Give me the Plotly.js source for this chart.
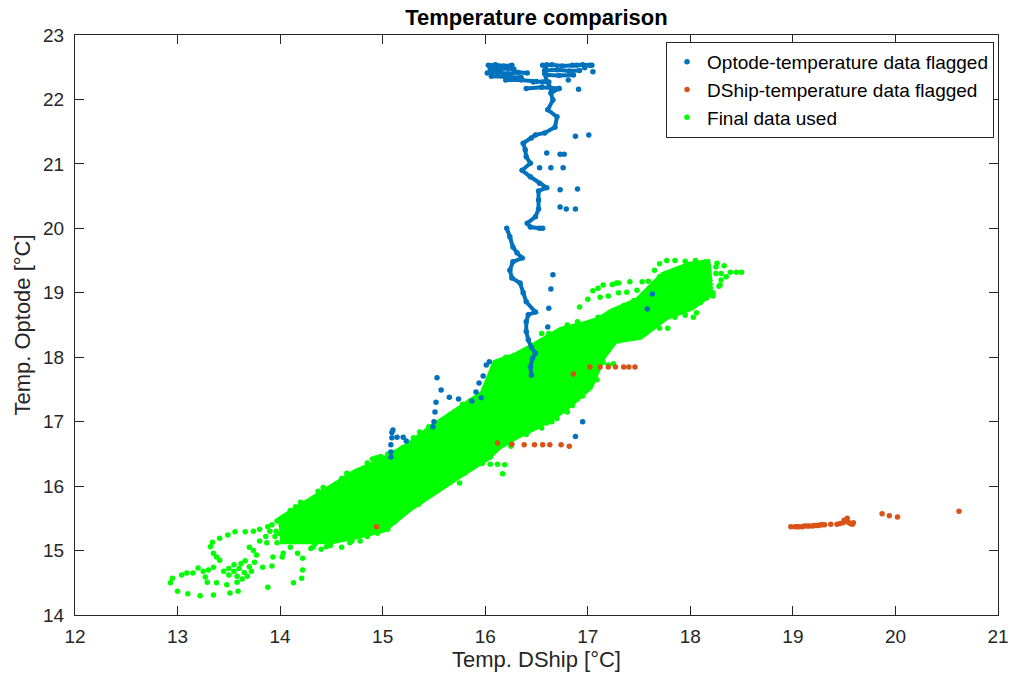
<!DOCTYPE html>
<html><head><meta charset="utf-8">
<script src="https://cdn.plot.ly/plotly-3.0.1.min.js"></script>
<style>html,body{margin:0;padding:0;background:#fff}#chart{width:1015px;height:679px}</style>
</head><body><div id="chart"></div>
<script>
// ---- tick labels ----
const xTicks = [12,13,14,15,16,17,18,19,20,21];
const yTicks = [14,15,16,17,18,19,20,21,22,23];

// ---- green: dense core of "Final data used", read as tracks across the band ----
const bandX  = [14.0,14.25,14.5,14.75,15.0,15.25,15.5,15.75,16.0,16.12,16.3,16.5,16.75,17.0,17.12,17.25,17.5,17.75,18.0,18.2];
const bandY0 = [15.19,15.17,15.19,15.27,15.37,15.69,15.97,16.22,16.47,16.65,16.82,16.97,17.22,17.57,18.02,18.30,18.36,18.66,18.81,19.05];
const bandY1 = [15.21,15.23,15.28,15.38,15.51,15.79,16.07,16.33,16.58,16.79,16.95,17.11,17.36,17.67,18.07,18.34,18.42,18.74,18.89,19.09];
const bandY2 = [15.25,15.30,15.40,15.52,15.66,15.93,16.21,16.47,16.72,16.99,17.13,17.29,17.54,17.82,18.15,18.39,18.49,18.83,18.98,19.15];
const bandY3 = [15.29,15.39,15.52,15.66,15.79,16.07,16.35,16.61,16.87,17.18,17.31,17.47,17.71,17.96,18.23,18.46,18.57,18.92,19.07,19.21];
const bandY4 = [15.33,15.47,15.63,15.80,15.93,16.21,16.49,16.76,17.01,17.36,17.49,17.64,17.88,18.09,18.31,18.52,18.64,19.00,19.15,19.27];
const bandY5 = [15.37,15.55,15.75,15.93,16.07,16.34,16.63,16.90,17.15,17.53,17.66,17.82,18.05,18.23,18.39,18.58,18.71,19.08,19.23,19.32];
const bandY6 = [15.40,15.62,15.86,16.06,16.22,16.47,16.77,17.03,17.29,17.71,17.83,17.99,18.22,18.36,18.47,18.63,18.78,19.16,19.31,19.38];
const bandY7 = [15.43,15.68,15.95,16.18,16.35,16.58,16.88,17.15,17.41,17.88,17.98,18.15,18.38,18.48,18.54,18.67,18.84,19.24,19.39,19.43];

// ---- green: individual points ----
const greenX = [12.93,12.95,13.00,13.10,13.22,13.35,13.51,13.59,13.88,14.13,14.21,14.22,
 13.04,13.09,13.15,13.20,13.25,
 13.32,13.34,13.41,13.49,13.56,13.66,13.74,13.80,13.88,13.97,14.03,
 13.35,13.38,13.41,13.35,13.30,13.27,13.29,13.38,13.48,13.58,
 13.50,13.55,13.60,13.65,13.70,13.62,13.55,13.68,13.72,13.58,13.50,13.66,13.75,13.45,13.63,
 13.77,13.74,13.70,13.83,13.92,13.93,14.02,14.03,13.87,13.97,14.17,14.22,14.32,14.49,14.34,14.40,
 13.90,13.95,14.08,14.05,13.80,13.92,13.96,14.00,13.86,
 14.10,14.20,14.37,14.60,14.85,15.10,15.36,15.59,15.78,15.98,15.45,15.70,
 14.78,14.88,14.95,15.14,15.20,15.25,15.30,15.64,15.67,15.90,15.97,16.05,16.12,16.19,16.17,15.75,15.45,14.60,14.68,
 14.94,14.98,
 16.92,17.02,17.08,17.15,17.20,17.25,17.09,17.05,16.99,16.95,16.85,16.70,16.60,
 16.55,16.62,16.70,16.78,16.86,16.95,17.05,17.15,17.25,17.35,17.45,
 17.05,17.10,17.15,17.24,17.30,17.41,17.53,17.59,17.38,17.48,17.30,17.20,17.00,16.92,17.12,17.28,
 17.77,17.85,17.95,18.05,18.15,18.26,18.39,18.45,18.50,18.29,18.16,18.22,18.03,17.95,18.06,17.70,17.78,17.97,18.10,18.25,18.35,17.65,17.70,
 14.15,14.42,14.65,14.90,15.05,15.20,15.30,15.52,15.65,15.85,16.05,16.10,16.20,16.40,16.60,16.80,16.90,17.10,17.35,17.45,17.60,17.70,
 14.10,14.30,14.45,14.70,14.85,15.05,15.12,15.35,15.55,15.80,16.05,16.25,16.40,16.55,16.65,16.80,16.90,17.00,17.30,17.45,17.60,17.85,18.10,18.20,18.30,
 18.25,18.30,18.28,18.22,18.33];
const greenY = [14.50,14.57,14.37,14.33,14.30,14.31,14.34,14.37,14.43,14.50,14.57,14.70,
 14.62,14.65,14.65,14.73,14.68,
 15.06,15.13,15.19,15.24,15.29,15.29,15.30,15.33,15.37,15.46,15.50,
 14.96,14.90,14.85,14.74,14.70,14.59,14.51,14.50,14.47,14.51,
 14.62,14.68,14.72,14.66,14.75,14.80,14.78,14.60,14.68,14.60,14.72,14.84,14.82,14.68,14.56,
 14.93,15.00,15.05,14.74,14.76,14.90,14.90,14.96,15.12,15.12,14.96,14.88,15.05,15.08,15.10,15.02,
 15.30,15.22,15.20,15.35,15.15,15.40,15.30,15.26,15.22,
 15.62,15.75,15.92,16.12,16.36,16.52,16.84,17.03,17.27,17.40,16.92,17.15,
 15.15,15.27,15.27,15.50,15.80,15.78,15.75,16.16,16.16,16.37,16.35,16.34,16.34,16.33,16.19,16.05,15.85,15.05,15.12,
 16.44,16.46,
 17.85,17.93,17.90,17.92,17.88,17.90,17.65,17.70,17.54,17.40,17.25,17.05,16.98,
 18.37,18.37,18.37,18.36,18.37,18.36,18.40,18.41,18.42,18.42,18.42,
 19.03,19.07,19.12,19.13,19.15,19.17,19.17,19.18,19.01,19.04,19.00,18.95,18.90,18.78,18.93,19.15,
 19.50,19.50,19.49,19.50,19.48,19.46,19.32,19.32,19.32,19.12,18.92,19.00,18.62,18.65,18.69,18.45,18.45,18.86,19.20,19.30,19.25,19.35,19.45,
 15.68,15.98,16.20,16.42,16.50,16.60,16.75,16.98,17.10,17.32,17.62,17.80,18.00,18.12,18.30,18.50,18.55,18.62,18.80,18.88,19.05,19.25,
 15.05,15.03,15.06,15.15,15.22,15.33,15.45,15.72,15.95,16.20,16.45,16.62,16.80,16.90,17.00,17.15,17.35,17.50,18.25,18.30,18.45,18.62,18.85,19.00,19.20,
 19.40,19.30,19.10,18.95,19.42];

// ---- blue: Optode-temperature flagged, continuous track (null = break) ----
const blueTrackX = [16.45,16.44,16.46,16.49,16.45,16.42,16.40,16.40,16.42,16.49,16.40,16.37,16.34,16.26,16.24,16.27,16.36,16.31,16.27,16.24,16.21,null,
 16.53,16.44,16.41,16.49,16.52,16.52,16.52,16.60,16.53,16.44,16.36,16.44,16.40,16.39,16.37,16.45,16.49,16.58,16.68,16.70,16.61,16.66,16.64,16.72,null,
 16.72,16.55,16.40,null, 16.20,16.35,16.50,16.62,null, 16.02,16.12,16.22,16.32,16.41,null,
 16.03,16.10,16.18,16.26,null, 16.56,16.65,16.75,16.85,16.95,17.02,null, 16.58,16.70,16.82,16.92,null,
 16.60,16.58,16.60,16.65,null, 16.06,16.20,16.35,null, 16.05,16.15,16.28,null, 16.60,16.72,16.86];
const blueTrackY = [17.72,17.85,17.98,18.06,18.15,18.27,18.40,18.55,18.66,18.70,18.86,19.00,19.15,19.23,19.35,19.48,19.54,19.62,19.71,19.87,20.00,null,
 20.00,20.02,20.08,20.18,20.30,20.44,20.58,20.63,20.70,20.80,20.90,21.01,21.11,21.22,21.32,21.40,21.45,21.48,21.57,21.73,21.84,21.99,22.10,22.17,null,
 22.17,22.19,22.17,null, 22.30,22.30,22.28,22.27,null, 22.41,22.42,22.40,22.42,22.41,null,
 22.53,22.54,22.52,22.53,null, 22.53,22.54,22.52,22.53,22.54,22.53,null, 22.45,22.46,22.44,22.45,null,
 22.54,22.40,22.28,22.15,null, 22.36,22.35,22.34,null, 22.47,22.48,22.47,null, 22.38,22.37,22.38];

// ---- blue: isolated points ----
const blueX = [15.53,15.57,15.65,15.74,15.52,15.51,15.50,15.49,16.04,16.01,15.98,15.94,15.91,15.96,15.87,
 15.10,15.09,15.14,15.20,15.23,15.09,15.08,15.08,15.08,16.95,16.88,
 16.88,17.01,16.60,16.73,16.77,16.53,16.64,16.76,16.73,16.90,16.73,16.79,16.88,16.56,16.66,16.64,16.62,16.61,
 16.89,16.97,17.04,17.05,16.91,16.81,16.47,16.56,17.63,17.58];
const blueY = [17.68,17.49,17.38,17.35,17.30,17.15,17.00,16.92,17.93,17.88,17.71,17.60,17.46,17.37,17.32,
 16.87,16.83,16.76,16.76,16.70,16.75,16.64,16.53,16.45,17.00,16.77,
 21.43,21.45,21.17,21.15,21.15,20.94,20.94,20.94,20.60,20.61,20.33,20.30,20.30,20.00,19.28,19.06,18.76,18.47,
 22.53,22.49,22.53,22.43,22.16,22.30,22.27,22.27,18.98,18.75];

// ---- red: DShip-temperature flagged ----
const redX = [16.12,16.26,16.38,16.48,16.56,16.63,16.74,16.82,
 17.02,17.12,17.20,17.27,17.35,17.40,17.46,16.86,14.94,
 18.98,19.02,19.04,19.06,19.09,19.11,19.14,19.16,19.19,19.21,19.23,19.25,19.27,19.29,19.31,19.37,19.43,19.46,19.49,19.53,19.50,19.54,19.58,19.59,19.56,
 19.87,19.94,20.02,20.62];
const redY = [16.67,16.65,16.64,16.64,16.64,16.64,16.64,16.62,
 17.85,17.85,17.85,17.85,17.85,17.85,17.85,17.74,15.37,
 15.37,15.37,15.37,15.37,15.37,15.38,15.38,15.38,15.38,15.39,15.39,15.39,15.40,15.40,15.40,15.41,15.41,15.42,15.43,15.50,15.47,15.44,15.41,15.43,15.42,
 15.57,15.54,15.52,15.61];

// build band tracks into one trace with gaps
const bandYs = [bandY0,bandY1,bandY2,bandY3,bandY4,bandY5,bandY6,bandY7];
const bx = [], by = [];
bandYs.forEach(ys => { bx.push(...bandX, null); by.push(...ys, null); });

const BLUE = '#0072BD', RED = '#D95319', GREEN = '#00FF00';
const MS = 5.5;

const traces = [
  {x: bx, y: by, type:'scatter', mode:'lines', line:{color:GREEN, width:12}, showlegend:false, hoverinfo:'skip'},
  {x: greenX, y: greenY, type:'scatter', mode:'markers', name:'Final data used', legendrank:3,
   marker:{color:GREEN, size:MS}},
  {x: blueTrackX, y: blueTrackY, type:'scatter', mode:'lines+markers', line:{color:BLUE, width:4},
   marker:{color:BLUE, size:MS}, showlegend:false, connectgaps:false},
  {x: blueX, y: blueY, type:'scatter', mode:'markers', name:'Optode-temperature data flagged', legendrank:1,
   marker:{color:BLUE, size:MS}},
  {x: redX, y: redY, type:'scatter', mode:'markers', name:'DShip-temperature data flagged', legendrank:2,
   marker:{color:RED, size:MS}}
];

const axisCommon = {
  ticks:'inside', ticklen:9, tickwidth:1, tickcolor:'#262626',
  showline:true, linecolor:'#262626', linewidth:1, mirror:'allticks',
  showgrid:false, zeroline:false, automargin:false,
  tickfont:{size:19, color:'#262626'}
};

const layout = {
  width:1015, height:679,
  margin:{l:75, r:17, t:35, b:64},
  paper_bgcolor:'#ffffff', plot_bgcolor:'#ffffff',
  font:{family:'"Liberation Sans", Arial, Helvetica, sans-serif', color:'#262626', size:19},
  title:{text:'<b>Temperature comparison</b>', font:{size:22, color:'#000000'},
         x:0.5, xref:'paper', xanchor:'center', y:0.975, yref:'container', yanchor:'middle'},
  xaxis: Object.assign({}, axisCommon, {range:[12,21], tickvals:xTicks, ticktext:xTicks.map(String),
         ticklabelstandoff:4,
         title:{text:'Temp. DShip [°C]', font:{size:22, color:'#262626'}, standoff:5}}),
  yaxis: Object.assign({}, axisCommon, {range:[14,23], tickvals:yTicks, ticktext:yTicks.map(String),
         ticklabelstandoff:6,
         title:{text:'Temp. Optode [°C]', font:{size:22, color:'#262626'}, standoff:6}}),
  legend:{x:0.9957, y:0.988, xanchor:'right', yanchor:'top', bgcolor:'#ffffff',
          bordercolor:'#262626', borderwidth:1, font:{size:19, color:'#000000'},
          itemwidth:30, tracegroupgap:0},
  showlegend:true
};

Plotly.newPlot('chart', traces, layout, {displayModeBar:false, staticPlot:true});
</script>
</body></html>
